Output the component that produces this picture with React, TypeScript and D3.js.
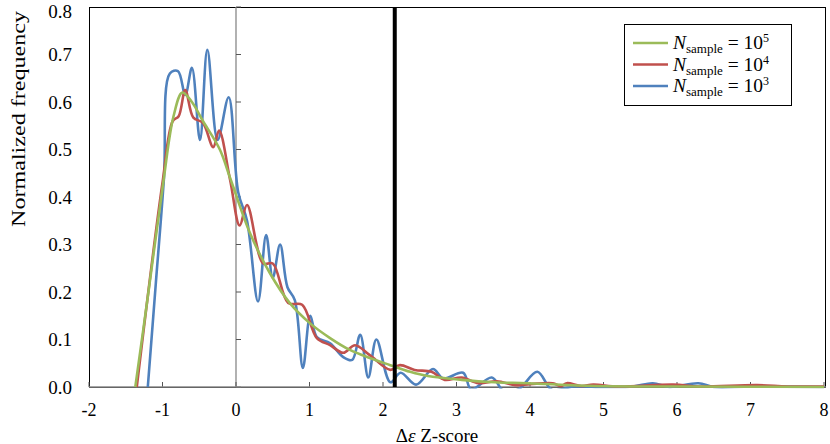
import * as d3 from "d3";

// Δε Z-score tick values and normalized frequency ticks
const xTicks = [-2, -1, 0, 1, 2, 3, 4, 5, 6, 7, 8];
const yTicks = [0, 0.1, 0.2, 0.3, 0.4, 0.5, 0.6, 0.7, 0.8];
const threshold = 2.16;

// N_sample = 10^3 (blue)
const n1e3: [number, number][] = [
  [-1.2, 0], [-1.09, 0.22], [-0.98, 0.44], [-0.9, 0.66], [-0.79, 0.665], [-0.69, 0.615],
  [-0.6, 0.672], [-0.49, 0.52], [-0.39, 0.71], [-0.25, 0.52], [-0.1, 0.61], [0.03, 0.41],
  [0.15, 0.35], [0.3, 0.18], [0.41, 0.32], [0.5, 0.23], [0.6, 0.3], [0.7, 0.21],
  [0.8, 0.183], [0.91, 0.04], [1.01, 0.15], [1.1, 0.105], [1.28, 0.092], [1.46, 0.063],
  [1.58, 0.057], [1.69, 0.11], [1.8, 0.02], [1.91, 0.1], [2.1, 0.01], [2.24, 0.03],
  [2.45, 0.005], [2.68, 0.038], [2.82, 0.018], [3.09, 0.03], [3.2, -0.005], [3.48, 0.02],
  [3.65, -0.01], [3.85, -0.004], [4.1, 0.032], [4.3, -0.006], [4.6, 0.001], [5.0, 0],
  [5.4, 0.001], [5.67, 0.008], [5.9, 0], [6.29, 0.008], [6.5, 0], [7.0, 0.001], [8.0, 0],
];

// N_sample = 10^4 (red)
const n1e4: [number, number][] = [
  [-1.35, 0], [-1.0, 0.43], [-0.86, 0.56], [-0.78, 0.57], [-0.69, 0.625], [-0.58, 0.567],
  [-0.45, 0.556], [-0.31, 0.505], [-0.23, 0.54], [-0.08, 0.436], [0.05, 0.34], [0.15, 0.383],
  [0.37, 0.26], [0.5, 0.26], [0.71, 0.177], [0.9, 0.173], [1.1, 0.103], [1.28, 0.088],
  [1.46, 0.072], [1.62, 0.088], [1.82, 0.067], [2.1, 0.036], [2.23, 0.046], [2.43, 0.036],
  [2.66, 0.032], [2.84, 0.015], [3.07, 0.02], [3.3, 0.008], [3.55, 0.012], [3.8, 0.004],
  [4.0, 0.006], [4.31, 0.008], [4.42, 0.002], [4.5, 0.008], [4.7, 0.002], [4.86, 0.005],
  [5.2, 0.001], [5.95, 0.005], [6.3, 0.001], [7.09, 0.004], [7.5, 0.001], [8.0, 0.001],
];

// N_sample = 10^5 (green)
const n1e5: [number, number][] = [
  [-1.37, 0], [-1.2, 0.19], [-0.99, 0.43], [-0.85, 0.57], [-0.73, 0.62], [-0.6, 0.6],
  [-0.45, 0.56], [-0.22, 0.5], [-0.08, 0.44], [0.19, 0.324], [0.46, 0.24], [0.73, 0.177],
  [1.0, 0.135], [1.28, 0.103], [1.55, 0.078], [1.82, 0.061], [2.1, 0.046], [2.37, 0.032],
  [2.61, 0.023], [3.07, 0.015], [3.52, 0.01], [3.97, 0.008], [4.88, 0.002], [6.0, 0.001],
  [8.0, 0],
];

const series = [
  { key: "1e3", exp: "3", data: n1e3, color: "#4F81BD" },
  { key: "1e4", exp: "4", data: n1e4, color: "#C0504D" },
  { key: "1e5", exp: "5", data: n1e5, color: "#9BBB59" },
];

const W = 830;
const H = 444;
const left = 89, right = 826, top = 7, bottom = 387;

export default function App() {
  const x = d3.scaleLinear().domain([-2, 8]).range([left, right - 2]);
  const y = d3.scaleLinear().domain([0, 0.8]).range([bottom, top]);
  const line = d3
    .line<[number, number]>()
    .x((d) => x(d[0]))
    .y((d) => y(d[1]))
    .curve(d3.curveCatmullRom.alpha(0.5));

  const font = "'Liberation Serif', 'Times New Roman', serif";
  const legendRows = [...series].reverse();

  return (
    <div style={{ position: "absolute", left: 0, top: 0 }}>
      <svg width={W} height={H} style={{ display: "block", fontFamily: font }}>
        <defs>
          <clipPath id="plot">
            <rect x={left} y={top} width={right - left} height={bottom - top + 1.5} />
          </clipPath>
        </defs>
        <rect x={0} y={0} width={W} height={H} fill="#fff" />
        {/* plot frame */}
        <rect x={left + 0.5} y={top + 0.5} width={right - left - 1} height={bottom - top} fill="none" stroke="#000" strokeWidth={1} />

        {/* y axis crossing at x = 0 */}
        <line x1={x(0)} x2={x(0)} y1={top} y2={bottom} stroke="#888" strokeWidth={1.3} />
        {yTicks.map((t) => (
          <line key={t} x1={x(0)} x2={x(0) + 5} y1={y(t)} y2={y(t)} stroke="#555" strokeWidth={1} />
        ))}
        {/* x axis */}
        {xTicks.map((t) => (
          <line key={t} x1={x(t)} x2={x(t)} y1={bottom} y2={bottom - 5} stroke="#555" strokeWidth={1} />
        ))}
        <line x1={left} x2={right} y1={bottom} y2={bottom} stroke="#888" strokeWidth={1.6} />

        <g clipPath="url(#plot)">
          {series.map((s) => (
            <path key={s.key} d={line(s.data) || ""} fill="none" stroke={s.color} strokeWidth={2.6} strokeLinejoin="round" />
          ))}
        </g>

        {/* threshold line */}
        <line x1={x(threshold)} x2={x(threshold)} y1={top} y2={bottom} stroke="#000" strokeWidth={4} />

        {/* tick labels */}
        {yTicks.map((t) => (
          <text key={t} x={72} y={Math.max(y(t), 11)} textAnchor="end" dominantBaseline="central" fontSize={19} fill="#000">
            {t.toFixed(1)}
          </text>
        ))}
        {xTicks.map((t) => (
          <text key={t} x={x(t)} y={410} textAnchor="middle" dominantBaseline="central" fontSize={18} fill="#000">
            {t}
          </text>
        ))}

        {/* axis titles */}
        <text
          transform="translate(18,119) rotate(-90)"
          textAnchor="middle"
          dominantBaseline="central"
          fontSize={19}
          textLength={216}
          lengthAdjust="spacingAndGlyphs"
        >
          Normalized frequency
        </text>
        <text x={437} y={435} textAnchor="middle" dominantBaseline="central" fontSize={19}>
          Δ<tspan fontStyle="italic">ε</tspan> Z-score
        </text>

        {/* legend */}
        <rect x={624.5} y={24.5} width={167} height={81} fill="#fff" stroke="#000" strokeWidth={1} />
        {legendRows.map((s, i) => {
          const cy = 43 + i * 21.5;
          return (
            <g key={s.key}>
              <line x1={633} x2={668} y1={cy} y2={cy} stroke={s.color} strokeWidth={2.6} />
              <text x={673} y={cy + 6} fontSize={19.5} fill="#000">
                <tspan fontStyle="italic">N</tspan>
                <tspan fontSize={13} dy={4}>sample</tspan>
                <tspan dy={-4}> = 10</tspan>
                <tspan fontSize={12} dy={-7}>{s.exp}</tspan>
              </text>
            </g>
          );
        })}
      </svg>
    </div>
  );
}
